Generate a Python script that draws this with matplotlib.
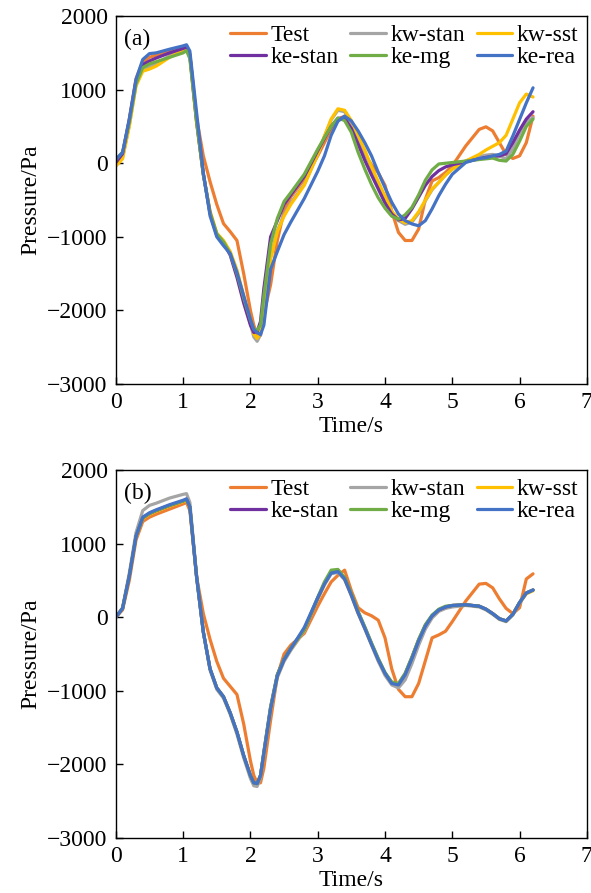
import matplotlib
matplotlib.use("Agg")
import matplotlib.pyplot as plt

plt.rcParams['font.family'] = ['Liberation Serif', 'DejaVu Serif']
plt.rcParams['mathtext.fontset'] = 'stix'

# time grid (s)
t = [0, 0.1, 0.2, 0.3, 0.4, 0.5, 0.6, 0.8, 1.0, 1.05, 1.1, 1.2, 1.3, 1.4, 1.5,
     1.6, 1.7, 1.8, 1.9, 2.0, 2.05, 2.1, 2.15, 2.2, 2.3, 2.4, 2.5, 2.6, 2.8,
     3.0, 3.1, 3.2, 3.3, 3.4, 3.5, 3.6, 3.7, 3.8, 3.9, 4.0, 4.1, 4.2, 4.3,
     4.4, 4.5, 4.6, 4.7, 4.8, 4.9, 5.0, 5.2, 5.4, 5.5, 5.6, 5.7, 5.8, 5.9,
     6.0, 6.1, 6.2]

labels = ['Test', 'kw-stan', 'kw-sst', 'ke-stan', 'ke-mg', 'ke-rea']
colors = ['#ED7D31', '#A5A5A5', '#FFC000', '#7030A0', '#70AD47', '#4472C4']

# ---- panel (a) ----
test_a = [0, 120, 600, 1150, 1380, 1440, 1470, 1530, 1580, 1600, 1480, 620, 100, -250, -560,
          -820, -930, -1050, -1500, -2000, -2200, -2330, -2340, -2050, -1650, -1050, -650, -460, -215,
          100, 280, 460, 600, 640, 500, 300, 120, -20, -130, -300, -650, -940, -1050,
          -1050, -895, -490, -240, -195, -125, -35, 235, 460, 495, 440, 280, 120, 65,
          100, 280, 640]
kwstan_a = [-20, 80, 520, 1070, 1280, 1310, 1350, 1460, 1550, 1570, 1460, 560, -150, -660, -960,
            -1060, -1220, -1470, -1830, -2180, -2360, -2420, -2330, -1930, -1280, -920, -700, -540, -290,
            120, 360, 590, 720, 700, 550, 350, 150, -70, -270, -470, -670, -780, -830,
            -800, -680, -510, -360, -260, -160, -80, 30, 90, 110, 120, 100, 60, 200,
            400, 560, 620]
kwsst_a = [-40, 60, 500, 1050, 1250, 1280, 1320, 1440, 1540, 1560, 1450, 550, -150, -650, -950,
           -1050, -1200, -1450, -1800, -2150, -2320, -2380, -2300, -1900, -1300, -930, -720, -560, -300,
           120, 370, 600, 740, 720, 580, 380, 180, -50, -250, -450, -650, -760, -810,
           -780, -660, -500, -350, -260, -160, -80, 30, 120, 180, 230, 280, 380, 600,
           820, 940, 900]
kestan_a = [10, 130, 580, 1120, 1340, 1390, 1430, 1500, 1560, 1580, 1470, 580, -150, -680, -980,
            -1080, -1250, -1550, -1900, -2200, -2300, -2290, -2150, -1700, -1000, -780, -560, -430, -180,
            170, 340, 500, 610, 610, 470, 260, 40, -160, -350, -540, -690, -770, -750,
            -620, -460, -300, -180, -100, -50, -20, 20, 60, 80, 90, 100, 130, 280,
            450, 600, 700]
kemg_a = [50, 150, 560, 1080, 1300, 1350, 1380, 1440, 1500, 1530, 1420, 560, -150, -680, -960,
          -1070, -1230, -1500, -1830, -2130, -2250, -2270, -2200, -1800, -1100, -750, -520, -400, -150,
          190, 350, 500, 615, 580, 420, 150, -80, -290, -470, -610, -720, -760, -700,
          -600, -430, -230, -90, -10, 0, 10, 30, 50, 60, 70, 40, 30, 120,
          300, 500, 600]
kerea_a = [54, 145, 600, 1140, 1410, 1490, 1500, 1550, 1595, 1610, 1525, 690, -127, -715, -1000,
           -1120, -1230, -1485, -1800, -2120, -2260, -2300, -2330, -2200, -1440, -1200, -970, -800, -480,
           -110, 100, 380, 570, 640, 575, 440, 280, 100, -125, -330, -530, -690, -780,
           -825, -850, -780, -620, -440, -285, -150, 10, 65, 75, 100, 120, 165, 370,
           595, 820, 1025]

# ---- panel (b) ----
test_b = [0, 100, 500, 1050, 1300, 1360, 1400, 1470, 1540, 1560, 1450, 550, 50, -300, -600,
          -830, -940, -1050, -1450, -1950, -2150, -2250, -2250, -2050, -1400, -800, -500, -380, -220,
          150, 320, 480, 570, 640, 360, 130, 60, 20, -40, -280, -700, -980, -1080,
          -1080, -900, -590, -280, -240, -190, -60, 220, 450, 460, 400, 250, 120, 50,
          130, 520, 590]
kwstan_b = [0, 130, 600, 1150, 1450, 1520, 1550, 1620, 1670, 1680, 1560, 570, -200, -720, -980,
            -1100, -1320, -1590, -1910, -2190, -2290, -2300, -2180, -1870, -1260, -820, -600, -450, -190,
            240, 440, 590, 610, 510, 290, 50, -160, -380, -600, -790, -920, -960, -850,
            -630, -380, -160, -10, 80, 120, 140, 160, 140, 100, 40, -30, -60, 30,
            190, 320, 370]
kwsst_b = [0, 120, 560, 1090, 1340, 1400, 1440, 1510, 1570, 1590, 1490, 550, -200, -700, -960,
           -1080, -1300, -1560, -1880, -2150, -2250, -2260, -2150, -1850, -1250, -800, -580, -430, -180,
           250, 450, 610, 630, 520, 300, 60, -150, -370, -580, -760, -890, -910, -770,
           -550, -310, -110, 20, 100, 140, 160, 170, 150, 110, 50, -20, -50, 40,
           200, 320, 360]
kestan_b = [0, 120, 560, 1100, 1350, 1410, 1450, 1520, 1580, 1600, 1500, 550, -200, -700, -960,
            -1080, -1300, -1560, -1880, -2150, -2250, -2260, -2150, -1830, -1220, -780, -570, -420, -170,
            260, 460, 620, 640, 530, 310, 70, -140, -360, -570, -760, -890, -910, -770,
            -550, -310, -110, 20, 100, 140, 160, 170, 150, 110, 50, -20, -50, 40,
            200, 330, 370]
kemg_b = [0, 120, 560, 1100, 1350, 1410, 1450, 1520, 1580, 1600, 1500, 550, -200, -700, -960,
          -1080, -1300, -1560, -1880, -2150, -2250, -2260, -2150, -1830, -1220, -780, -570, -420, -170,
          270, 480, 640, 650, 540, 320, 80, -130, -350, -560, -750, -880, -900, -760,
          -540, -300, -100, 30, 110, 150, 160, 170, 150, 110, 50, -20, -50, 40,
          200, 330, 370]
kerea_b = [0, 120, 560, 1100, 1360, 1420, 1460, 1530, 1590, 1610, 1500, 550, -200, -700, -960,
           -1080, -1300, -1560, -1880, -2150, -2250, -2260, -2150, -1850, -1250, -800, -580, -430, -140,
           265, 450, 600, 620, 520, 300, 60, -150, -370, -580, -760, -900, -920, -780,
           -560, -320, -120, 20, 100, 140, 160, 170, 150, 110, 50, -20, -50, 40,
           200, 330, 370]

series_a = [test_a, kwstan_a, kwsst_a, kestan_a, kemg_a, kerea_a]
series_b = [test_b, kwstan_b, kwsst_b, kestan_b, kemg_b, kerea_b]

fig = plt.figure(figsize=(5.91, 8.93), dpi=100)
ax1 = fig.add_axes([0.196, 0.570, 0.797, 0.412])
ax2 = fig.add_axes([0.196, 0.0616, 0.797, 0.412])

for ax, data, tag in [(ax1, series_a, '(a)'), (ax2, series_b, '(b)')]:
    lines = []
    for y, lab, c in zip(data, labels, colors):
        ln, = ax.plot(t, y, color=c, lw=2.3, label=lab, solid_capstyle='round')
        lines.append(ln)
    ax.set_xlim(0, 7)
    ax.set_ylim(-3000, 2000)
    ax.set_xticks(range(0, 8))
    ax.set_yticks(range(-3000, 2001, 1000))
    ax.tick_params(direction='in', labelsize=17, length=5, width=1, pad=6)
    ax.set_xlabel('Time/s', fontsize=17, labelpad=2)
    ax.set_ylabel('Pressure/Pa', fontsize=17, labelpad=4)
    for s in ax.spines.values():
        s.set_linewidth(1.0)
    ax.text(0.018, 0.965, tag, transform=ax.transAxes, fontsize=17, va='top')
    # row-wise order for a 3-column legend
    order = [0, 3, 1, 4, 2, 5]
    ax.legend([lines[i] for i in order], [labels[i] for i in order], ncol=3,
              loc='upper right', bbox_to_anchor=(1.0, 1.0), frameon=False,
              fontsize=17, handlelength=1.5, handletextpad=0.2,
              columnspacing=0.5, labelspacing=0.02, borderaxespad=0.15,
              borderpad=0.2)

fig.savefig('out.png', dpi=100)
